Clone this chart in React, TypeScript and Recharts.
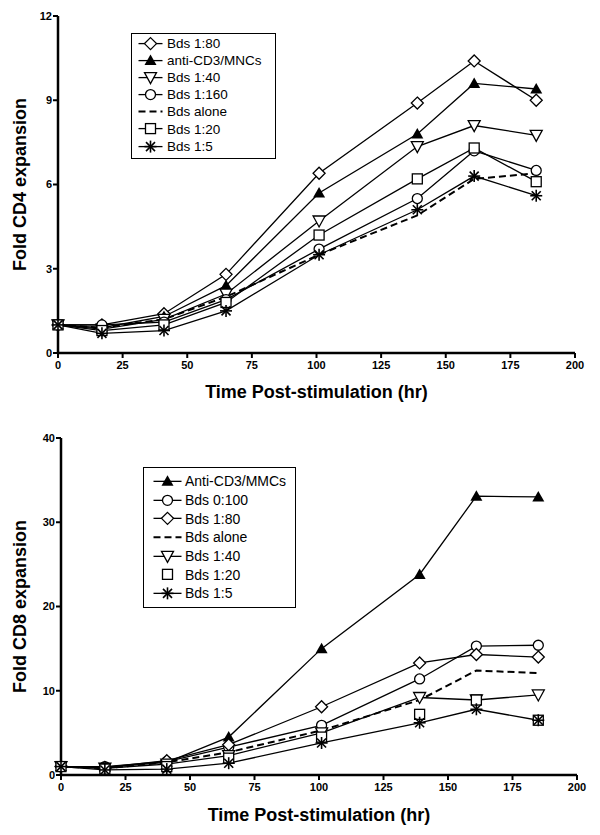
import { LineChart, Line, XAxis, YAxis, Legend } from 'recharts';

const hours = [0, 17, 41, 65, 101, 139, 161, 185];
const xTicks = [0, 25, 50, 75, 100, 125, 150, 175, 200];

// CD4 panel
const cd4Ticks = [0, 3, 6, 9, 12];
const cd4Bds1to80 = [1, 1.0, 1.4, 2.8, 6.4, 8.9, 10.4, 9.0];
const cd4AntiCD3 = [1, 0.9, 1.3, 2.4, 5.7, 7.8, 9.6, 9.4];
const cd4Bds1to40 = [1, 0.85, 1.2, 2.1, 4.7, 7.35, 8.1, 7.75];
const cd4Bds1to160 = [1, 1.0, 1.1, 1.9, 3.7, 5.5, 7.2, 6.5];
const cd4BdsAlone = [1, 0.9, 1.2, 2.0, 3.5, 4.9, 6.2, 6.4];
const cd4Bds1to20 = [1, 0.8, 1.0, 1.8, 4.2, 6.2, 7.3, 6.1];
const cd4Bds1to5 = [1, 0.7, 0.8, 1.5, 3.5, 5.1, 6.3, 5.6];

// CD8 panel
const cd8Ticks = [0, 10, 20, 30, 40];
const cd8AntiCD3 = [1, 0.9, 1.5, 4.5, 15.0, 23.8, 33.1, 33.0];
const cd8Bds0to100 = [1, 1.0, 1.6, 3.3, 5.9, 11.4, 15.3, 15.4];
const cd8Bds1to80 = [1, 0.9, 1.7, 3.6, 8.1, 13.3, 14.3, 14.0];
const cd8BdsAlone = [1, 0.8, 1.5, 2.7, 5.3, 8.9, 12.4, 12.1];
const cd8Bds1to40 = [1, 0.8, 1.3, 2.3, 5.0, 9.2, 8.9, 9.5];
const cd8Bds1to20 = [1, 0.7, 1.0, 2.0, 4.5, 7.2, 8.9, 6.5];
const cd8Bds1to5 = [1, 0.6, 0.7, 1.4, 3.8, 6.2, 7.8, 6.5];

type Shape = 'diamond' | 'triangle' | 'down' | 'circle' | 'square' | 'star' | 'none';

type Series = {
  key: string;
  name: string;
  values: number[];
  shape: Shape;
  dashed?: boolean;
  noLine?: boolean;
};

const cd4Series: Series[] = [
  { key: 'b80', name: 'Bds 1:80', values: cd4Bds1to80, shape: 'diamond' },
  { key: 'anti', name: 'anti-CD3/MNCs', values: cd4AntiCD3, shape: 'triangle' },
  { key: 'b40', name: 'Bds 1:40', values: cd4Bds1to40, shape: 'down' },
  { key: 'b160', name: 'Bds 1:160', values: cd4Bds1to160, shape: 'circle' },
  { key: 'alone', name: 'Bds alone', values: cd4BdsAlone, shape: 'none', dashed: true },
  { key: 'b20', name: 'Bds 1:20', values: cd4Bds1to20, shape: 'square' },
  { key: 'b5', name: 'Bds 1:5', values: cd4Bds1to5, shape: 'star' },
];

const cd8Series: Series[] = [
  { key: 'anti', name: 'Anti-CD3/MMCs', values: cd8AntiCD3, shape: 'triangle' },
  { key: 'b100', name: 'Bds 0:100', values: cd8Bds0to100, shape: 'circle' },
  { key: 'b80', name: 'Bds 1:80', values: cd8Bds1to80, shape: 'diamond' },
  { key: 'alone', name: 'Bds alone', values: cd8BdsAlone, shape: 'none', dashed: true },
  { key: 'b40', name: 'Bds 1:40', values: cd8Bds1to40, shape: 'down' },
  { key: 'b20', name: 'Bds 1:20', values: cd8Bds1to20, shape: 'square', noLine: true },
  { key: 'b5', name: 'Bds 1:5', values: cd8Bds1to5, shape: 'star' },
];

const buildRows = (series: Series[]) =>
  hours.map((h, i) => {
    const row: Record<string, number> = { hour: h };
    series.forEach((s) => (row[s.key] = s.values[i]));
    return row;
  });

const FONT = '"Liberation Sans", Arial, Helvetica, sans-serif';

const Marker = ({ cx, cy, shape }: { cx: number; cy: number; shape: Shape }) => {
  const sw = 1.3;
  switch (shape) {
    case 'diamond':
      return (
        <polygon
          points={`${cx},${cy - 6} ${cx + 6},${cy} ${cx},${cy + 6} ${cx - 6},${cy}`}
          fill="#fff"
          stroke="#000"
          strokeWidth={sw}
        />
      );
    case 'triangle':
      return <polygon points={`${cx},${cy - 6} ${cx + 6},${cy + 4.5} ${cx - 6},${cy + 4.5}`} fill="#000" />;
    case 'down':
      return (
        <polygon
          points={`${cx - 6},${cy - 5} ${cx + 6},${cy - 5} ${cx},${cy + 6}`}
          fill="#fff"
          stroke="#000"
          strokeWidth={sw}
        />
      );
    case 'circle':
      return <circle cx={cx} cy={cy} r={5} fill="#fff" stroke="#000" strokeWidth={sw} />;
    case 'square':
      return <rect x={cx - 5} y={cy - 5} width={10} height={10} fill="#fff" stroke="#000" strokeWidth={sw} />;
    case 'star':
      return (
        <g stroke="#000" strokeWidth={1.6}>
          <line x1={cx - 6} y1={cy} x2={cx + 6} y2={cy} />
          <line x1={cx} y1={cy - 6} x2={cx} y2={cy + 6} />
          <line x1={cx - 4.5} y1={cy - 4.5} x2={cx + 4.5} y2={cy + 4.5} />
          <line x1={cx - 4.5} y1={cy + 4.5} x2={cx + 4.5} y2={cy - 4.5} />
        </g>
      );
    default:
      return <g />;
  }
};

const LegendBox = ({
  series,
  width,
  rowH,
  padTop,
  padBottom,
  lineFrom,
  lineTo,
  svgW,
  fontSize,
}: {
  series: Series[];
  width: number;
  rowH: number;
  padTop: number;
  padBottom: number;
  lineFrom: number;
  lineTo: number;
  svgW: number;
  fontSize: number;
}) => (
  <div
    style={{
      width,
      boxSizing: 'border-box',
      border: '1.5px solid #000',
      background: '#fff',
      paddingTop: padTop,
      paddingBottom: padBottom,
      fontFamily: FONT,
      fontSize,
      color: '#000',
    }}
  >
    {series.map((s) => (
      <div key={s.key} style={{ display: 'flex', alignItems: 'center', height: rowH }}>
        <svg width={svgW} height={rowH} style={{ flex: 'none' }}>
          {!s.noLine && (
            <line
              x1={lineFrom}
              y1={rowH / 2}
              x2={lineTo}
              y2={rowH / 2}
              stroke="#000"
              strokeWidth={s.dashed ? 2 : 1.3}
              strokeDasharray={s.dashed ? '7 4' : undefined}
            />
          )}
          <Marker cx={(lineFrom + lineTo) / 2} cy={rowH / 2} shape={s.shape} />
        </svg>
        <span style={{ whiteSpace: 'nowrap' }}>{s.name}</span>
      </div>
    ))}
  </div>
);

const tickStyle = { fill: '#000', fontSize: 11, fontWeight: 'bold', fontFamily: FONT };
const titleStyle = { fill: '#000', fontSize: 18, fontWeight: 'bold', fontFamily: FONT, textAnchor: 'middle' as const };

const renderLines = (series: Series[]) =>
  series.map((s) => (
    <Line
      key={s.key}
      dataKey={s.key}
      name={s.name}
      type="linear"
      stroke={s.noLine ? 'none' : '#000'}
      strokeWidth={s.dashed ? 2 : 1.3}
      strokeDasharray={s.dashed ? '7 4' : undefined}
      dot={(p: any) => <Marker key={`${s.key}-${p.index}`} cx={p.cx} cy={p.cy} shape={s.shape} />}
      activeDot={false}
      isAnimationActive={false}
    />
  ));

const Panel = ({
  series,
  yTicks,
  yMax,
  yTitle,
  height,
  margin,
  yWidth,
  xHeight,
  xTitleOffset,
  legend,
}: {
  series: Series[];
  yTicks: number[];
  yMax: number;
  yTitle: string;
  height: number;
  margin: { top: number; right: number; bottom: number; left: number };
  yWidth: number;
  xHeight: number;
  xTitleOffset: number;
  legend: { left: number; top: number; box: any };
}) => (
  <LineChart width={600} height={height} data={buildRows(series)} margin={margin}>
    <XAxis
      dataKey="hour"
      type="number"
      domain={[0, 200]}
      ticks={xTicks}
      height={xHeight}
      stroke="#000"
      axisLine={{ stroke: '#000', strokeWidth: 2.5 }}
      tickLine={{ stroke: '#000', strokeWidth: 2 }}
      tickSize={5}
      tickMargin={3}
      tick={tickStyle}
      label={{ value: 'Time Post-stimulation (hr)', position: 'insideBottom', offset: xTitleOffset, style: titleStyle }}
    />
    <YAxis
      type="number"
      domain={[0, yMax]}
      ticks={yTicks}
      width={yWidth}
      stroke="#000"
      axisLine={{ stroke: '#000', strokeWidth: 2.5 }}
      tickLine={{ stroke: '#000', strokeWidth: 2 }}
      tickSize={5}
      tickMargin={1}
      tick={tickStyle}
      label={{ value: yTitle, angle: -90, position: 'insideLeft', offset: 20, style: titleStyle }}
    />
    <Legend
      layout="vertical"
      align="center"
      verticalAlign="middle"
      wrapperStyle={{ left: legend.left, top: legend.top }}
      content={() => legend.box}
    />
    {renderLines(series)}
  </LineChart>
);

export default function App() {
  return (
    <div style={{ width: 600, background: '#fff' }}>
      <style>{`body{margin:0;background:#fff}`}</style>
      <Panel
        series={cd4Series}
        yTicks={cd4Ticks}
        yMax={12}
        yTitle="Fold CD4 expansion"
        height={418}
        margin={{ top: 16, right: 25, bottom: 0, left: 0 }}
        yWidth={58}
        xHeight={65}
        xTitleOffset={20}
        legend={{
          left: 131,
          top: 33,
          box: (
            <LegendBox
              series={cd4Series}
              width={145}
              rowH={17.2}
              padTop={0.5}
              padBottom={3.5}
              lineFrom={6.5}
              lineTo={30.5}
              svgW={35}
              fontSize={13.5}
            />
          ),
        }}
      />
      <Panel
        series={cd8Series}
        yTicks={cd8Ticks}
        yMax={40}
        yTitle="Fold CD8 expansion"
        height={417}
        margin={{ top: 20, right: 23, bottom: 0, left: 0 }}
        yWidth={61}
        xHeight={60}
        xTitleOffset={14}
        legend={{
          left: 143,
          top: 49,
          box: (
            <LegendBox
              series={cd8Series}
              width={153}
              rowH={18.7}
              padTop={4}
              padBottom={4}
              lineFrom={9.5}
              lineTo={37.5}
              svgW={41}
              fontSize={14}
            />
          ),
        }}
      />
    </div>
  );
}
